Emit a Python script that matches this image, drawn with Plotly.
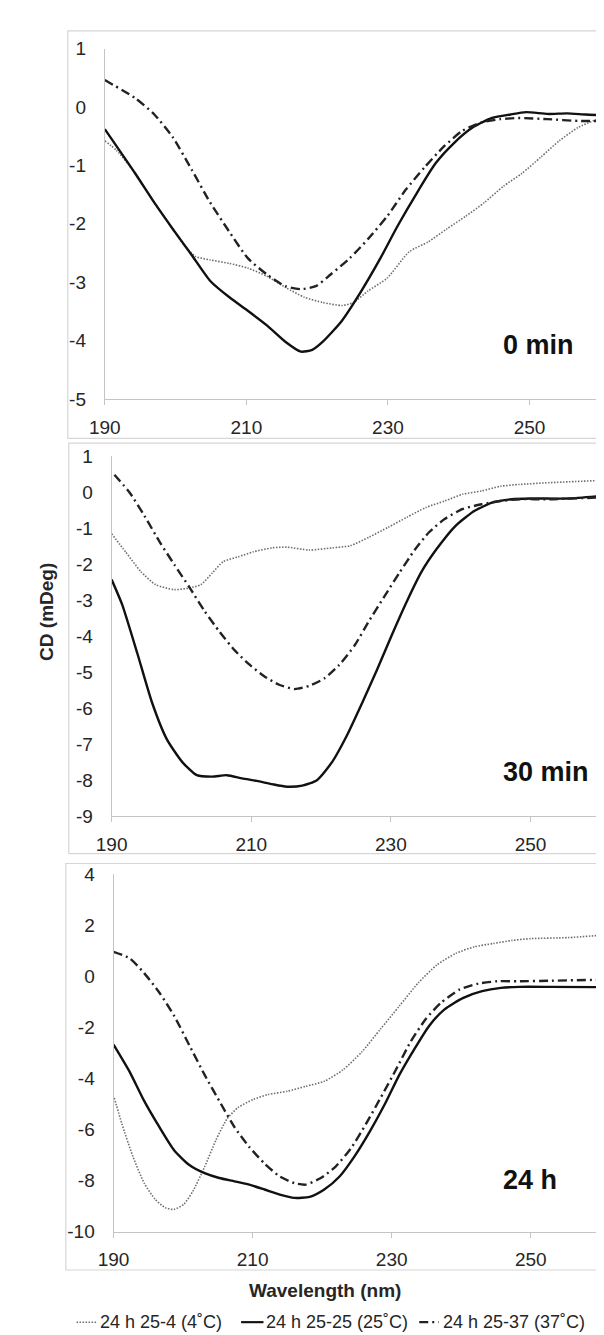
import plotly.graph_objects as go

W, H = 604, 1335

# ---------------- data ----------------
series_names = ["24 h 25-4 (4˚C)", "24 h 25-25 (25˚C)", "24 h 25-37 (37˚C)"]
panel_labels = ["0 min", "30 min", "24 h"]
x_ticks = [190, 210, 230, 250]
y_ticks_p1 = [1, 0, -1, -2, -3, -4, -5]
y_ticks_p2 = [1, 0, -1, -2, -3, -4, -5, -6, -7, -8, -9]
y_ticks_p3 = [4, 2, 0, -2, -4, -6, -8, -10]

# Panel 1 (0 min)
p1_wl_4 = [190, 191.7, 194.3, 197, 199.6, 201.2, 202.8, 204.9, 207.6, 210.2, 212.9, 215.5, 218.2, 220.8,
           223.5, 225.1, 227.2, 229.9, 233, 235.7, 238.3, 241, 243.6, 246.3, 248.9, 251.6, 254.2, 256.9, 260]
p1_cd_4 = [-0.58, -0.75, -1.14, -1.64, -2.09, -2.37, -2.56, -2.62, -2.68, -2.76, -2.9, -3.09, -3.26, -3.35,
           -3.4, -3.35, -3.15, -2.93, -2.48, -2.31, -2.09, -1.87, -1.64, -1.36, -1.14, -0.86, -0.58, -0.35, -0.19]
p1_wl_25 = [190, 194.3, 197, 199.6, 202.3, 204.9, 207.6, 210.2, 212.9, 215.5, 217.7, 219.3, 220.8, 223.5,
            226.1, 228.8, 231.4, 234.1, 236.7, 239.4, 242, 244.7, 247.3, 249.5, 252.6, 255.3, 257.9, 260]
p1_cd_25 = [-0.38, -1.14, -1.64, -2.09, -2.54, -2.98, -3.26, -3.49, -3.74, -4.02, -4.19, -4.16, -4.02, -3.66,
            -3.18, -2.62, -2.03, -1.47, -0.97, -0.61, -0.35, -0.19, -0.13, -0.09, -0.12, -0.11, -0.13, -0.14]
p1_wl_37 = [190, 194.3, 197, 199.6, 202.3, 204.9, 207.6, 210.2, 212.9, 215.5, 217.7, 219.8, 221.9, 224.6,
            227.2, 229.9, 232.5, 235.2, 237.8, 240.5, 243.1, 245.8, 248.4, 252.6, 256.9, 260]
p1_cd_37 = [0.46, 0.15, -0.13, -0.52, -1.08, -1.64, -2.14, -2.59, -2.87, -3.07, -3.12, -3.07, -2.87, -2.59,
            -2.26, -1.87, -1.42, -1.03, -0.69, -0.41, -0.27, -0.21, -0.19, -0.21, -0.24, -0.24]

# Panel 2 (30 min)
p2_wl_4 = [190, 192, 194.2, 196.3, 199, 201.2, 202.8, 204.4, 206, 208.1, 210.3, 213, 215.1, 218.3, 221.6,
           224.2, 226.9, 229.6, 232.3, 235, 237.7, 240.3, 243, 245.7, 248.4, 252.7, 260]
p2_cd_4 = [-1.16, -1.66, -2.21, -2.57, -2.71, -2.66, -2.57, -2.25, -1.93, -1.8, -1.66, -1.55, -1.53, -1.61,
           -1.55, -1.49, -1.25, -0.98, -0.7, -0.43, -0.25, -0.06, 0.03, 0.16, 0.21, 0.26, 0.32]
p2_wl_25 = [190, 191.5, 193.7, 195.8, 197.9, 200.1, 202.2, 204.4, 206.5, 208.7, 210.8, 213, 215.1, 217.3,
            219.4, 221.6, 223.7, 225.9, 228, 230.2, 232.3, 234.4, 236.6, 239.3, 242, 244.6, 247.3, 250, 255.4, 260]
p2_cd_25 = [-2.43, -3.12, -4.49, -5.85, -6.86, -7.49, -7.86, -7.9, -7.86, -7.95, -8.02, -8.11, -8.18, -8.15,
            -8.0, -7.49, -6.76, -5.85, -4.94, -3.94, -3.03, -2.21, -1.57, -0.93, -0.52, -0.29, -0.2, -0.18, -0.18, -0.11]
p2_wl_37 = [190.4, 192.6, 194.7, 196.9, 199, 201.2, 203.3, 205.5, 207.6, 209.8, 211.9, 214, 216.2, 218.3,
            220.5, 222.6, 224.8, 226.9, 229.1, 231.2, 233.4, 235.5, 237.7, 240.3, 243, 245.7, 248.4, 252.7, 260]
p2_cd_37 = [0.48, -0.02, -0.66, -1.39, -2.02, -2.66, -3.3, -3.89, -4.39, -4.8, -5.12, -5.35, -5.47, -5.38,
            -5.17, -4.8, -4.26, -3.57, -2.89, -2.25, -1.61, -1.11, -0.75, -0.47, -0.34, -0.25, -0.2, -0.2, -0.15]

# Panel 3 (24 h)
p3_wl_4 = [190.1, 191.2, 192.8, 194.4, 196, 197.4, 198.7, 200.1, 201.4, 203.1, 204.7, 206.3, 207.9, 210.1,
           212.2, 215, 217.6, 220.3, 223, 225.7, 228.4, 231.1, 233.8, 236.5, 239.2, 241.9, 244.6, 247.3, 250, 255.4, 260]
p3_cd_4 = [-4.76, -5.78, -7.07, -8.1, -8.74, -9.06, -9.13, -8.93, -8.42, -7.46, -6.43, -5.59, -5.14, -4.82,
           -4.63, -4.5, -4.31, -4.11, -3.66, -2.96, -2.06, -1.16, -0.26, 0.45, 0.9, 1.16, 1.29, 1.41, 1.48, 1.52, 1.61]
p3_wl_25 = [190, 192.3, 194.4, 196.6, 198.7, 200.9, 203.1, 205.2, 207.4, 209.5, 211.7, 213.9, 216, 218.2,
            220.3, 222.5, 224.6, 226.8, 229, 231.1, 233.3, 235.4, 237.6, 240.3, 243, 245.7, 248.4, 252.7, 260]
p3_cd_25 = [-2.67, -3.73, -4.88, -5.91, -6.81, -7.39, -7.71, -7.9, -8.03, -8.16, -8.35, -8.55, -8.68, -8.64,
            -8.35, -7.84, -7.07, -6.1, -5.01, -3.86, -2.83, -1.93, -1.29, -0.84, -0.58, -0.45, -0.41, -0.41, -0.42]
p3_wl_37 = [190, 192.3, 194.4, 196.6, 198.7, 200.9, 203.1, 205.2, 207.4, 209.5, 211.7, 213.9, 216, 217.6,
            219.8, 221.9, 224.1, 226.3, 228.4, 230.6, 232.7, 234.9, 237.1, 239.8, 242.5, 245.2, 248.4, 252.7, 260]
p3_cd_37 = [0.96, 0.71, 0.13, -0.64, -1.54, -2.7, -3.86, -4.88, -5.91, -6.68, -7.33, -7.84, -8.1, -8.16,
            -7.9, -7.46, -6.75, -5.78, -4.76, -3.66, -2.57, -1.67, -1.03, -0.51, -0.28, -0.19, -0.19, -0.17, -0.13]

# ---------------- styling ----------------
FONT = "Liberation Sans, Arial, sans-serif"
TXT = "#262626"
AXC = "#c4c4c4"
BOXC = "#d6d6d6"

styles = [
    dict(color="#6e6e6e", width=1.6, dash="1.5px,1.5px"),
    dict(color="#111111", width=2.4, dash="solid"),
    dict(color="#222222", width=2.4, dash="9px,4px,2px,4px"),
]


def px(x):
    return x / W


def py(y):
    return 1 - y / H


panels = [
    dict(wl=[p1_wl_4, p1_wl_25, p1_wl_37], cd=[p1_cd_4, p1_cd_25, p1_cd_37],
         xdom=(83, 592), ydom=(31, 387), yr=(-5, 1), yt=y_ticks_p1, box=(45, 13, 427), lab=332),
    dict(wl=[p2_wl_4, p2_wl_25, p2_wl_37], cd=[p2_cd_4, p2_cd_25, p2_cd_37],
         xdom=(90, 592), ydom=(445, 811), yr=(-9, 1), yt=y_ticks_p2, box=(46, 432, 849), lab=766),
    dict(wl=[p3_wl_4, p3_wl_25, p3_wl_37], cd=[p3_cd_4, p3_cd_25, p3_cd_37],
         xdom=(92, 592), ydom=(870, 1233), yr=(-10, 4), yt=y_ticks_p3, box=(43, 859, 1272), lab=1181),
]

fig = go.Figure()
shapes = []
annotations = []
layout = {}

for i, p in enumerate(panels):
    n = "" if i == 0 else str(i + 1)
    for k in range(3):
        fig.add_trace(go.Scatter(
            x=p["wl"][k], y=p["cd"][k], mode="lines", name=series_names[k],
            line=dict(shape="spline", smoothing=0.6, **styles[k]),
            xaxis="x" + n, yaxis="y" + n, showlegend=False, hoverinfo="skip"))
    layout["xaxis" + n] = dict(
        domain=[px(p["xdom"][0]), px(p["xdom"][1])], range=[190, 260], anchor="y" + n,
        tickvals=x_ticks, ticktext=[str(v) for v in x_ticks], ticks="outside", ticklen=5,
        tickcolor=AXC, showgrid=False, zeroline=False, showline=True, linecolor=AXC, linewidth=1,
        tickfont=dict(family=FONT, size=19, color=TXT), ticklabelstandoff=6, fixedrange=True)
    layout["yaxis" + n] = dict(
        domain=[py(p["ydom"][1]), py(p["ydom"][0])], range=list(p["yr"]), anchor="x" + n,
        tickvals=p["yt"], ticktext=[str(v) for v in p["yt"]], ticks="", showgrid=False,
        zeroline=False, showline=True, linecolor=AXC, linewidth=1,
        tickfont=dict(family=FONT, size=19, color=TXT), ticklabelstandoff=14, fixedrange=True)
    bx0, by0, by1 = p["box"]
    shapes.append(dict(type="rect", xref="paper", yref="paper",
                       x0=px(bx0), x1=px(W + 3), y0=py(by1), y1=py(by0),
                       line=dict(color=BOXC, width=1.2), fillcolor="rgba(0,0,0,0)", layer="below"))
    annotations.append(dict(text="<b>%s</b>" % panel_labels[i], xref="paper", yref="paper",
                            x=px(490), y=py(p["lab"]), xanchor="left", yanchor="middle",
                            showarrow=False, font=dict(family=FONT, size=27, color="#111111")))

# axis titles
annotations.append(dict(text="<b>CD (mDeg)</b>", xref="paper", yref="paper", x=px(23), y=py(603),
                        textangle=-90, showarrow=False, xanchor="center", yanchor="middle",
                        font=dict(family=FONT, size=19, color=TXT)))
annotations.append(dict(text="<b>Wavelength (nm)</b>", xref="paper", yref="paper", x=px(309), y=py(1293),
                        showarrow=False, xanchor="center", yanchor="middle",
                        font=dict(family=FONT, size=19, color=TXT)))

# manual legend
leg_y = py(1325)
leg_samples = [(54, 75), (223, 246), (406, 426)]
leg_text_x = [76, 247, 428]
for k in range(3):
    x0, x1 = leg_samples[k]
    shapes.append(dict(type="line", xref="paper", yref="paper", x0=px(x0), x1=px(x1), y0=leg_y, y1=leg_y,
                       line=dict(color=styles[k]["color"], width=styles[k]["width"] * 0.9,
                                 dash=styles[k]["dash"])))
    annotations.append(dict(text=series_names[k], xref="paper", yref="paper", x=px(leg_text_x[k]), y=leg_y,
                            xanchor="left", yanchor="middle", showarrow=False,
                            font=dict(family=FONT, size=18, color=TXT)))

fig.update_layout(
    width=W, height=H, margin=dict(l=0, r=0, t=0, b=0, pad=0),
    paper_bgcolor="white", plot_bgcolor="white", showlegend=False,
    shapes=shapes, annotations=annotations, **layout)

fig.write_html("out.html")
